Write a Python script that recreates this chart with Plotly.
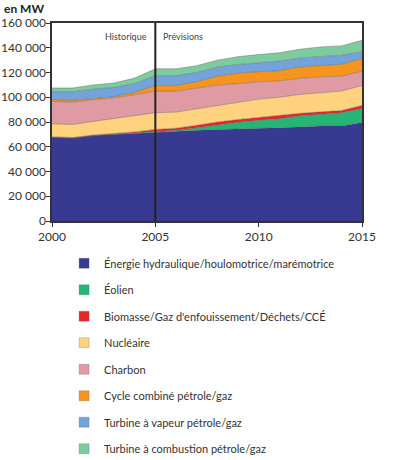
import plotly.graph_objects as go

years = list(range(2000, 2016))

# capacity by source, MW (stacked from bottom to top)
hydro = [67500, 67000, 69000, 70000, 71000, 72000, 72500, 73300, 74000, 74700, 75000, 75300, 76200, 76800, 76800, 79500]
wind = [0, 0, 0, 0, 200, 300, 800, 2000, 3800, 5100, 6500, 7400, 8800, 9600, 10700, 11500]
biomass = [500, 500, 500, 800, 800, 1700, 1700, 2000, 2200, 2200, 2200, 2100, 2000, 1800, 1700, 2400]
nuclear = [10500, 10500, 11000, 12200, 13500, 13500, 13000, 13200, 13500, 14000, 14800, 15200, 15300, 15400, 15800, 16100]
coal = [18000, 18000, 17500, 16500, 16500, 17500, 17000, 17000, 16300, 15000, 14000, 13200, 12900, 12900, 12000, 11500]
combined = [1500, 1500, 1000, 1000, 2000, 4500, 4500, 5000, 7200, 8500, 8100, 8300, 9300, 9400, 9700, 10300]
steam = [6500, 7000, 7500, 7500, 7000, 8000, 8000, 7500, 7500, 7000, 7200, 7700, 7300, 7300, 7300, 5300]
combustion = [3000, 3000, 3500, 3500, 4500, 5500, 5500, 5500, 5500, 6300, 6700, 6800, 7000, 7500, 7500, 9400]

history_end = 2005

series = [
    ("Énergie hydraulique/houlomotrice/marémotrice", hydro, "#383a92"),
    ("Éolien", wind, "#25b574"),
    ("Biomasse/Gaz d'enfouissement/Déchets/CCÉ", biomass, "#e8262a"),
    ("Nucléaire", nuclear, "#ffd27f"),
    ("Charbon", coal, "#e09aa3"),
    ("Cycle combiné pétrole/gaz", combined, "#f7941d"),
    ("Turbine à vapeur pétrole/gaz", steam, "#74a3db"),
    ("Turbine à combustion pétrole/gaz", combustion, "#7dcc9f"),
]

fig = go.Figure()
for name, vals, col in series:
    fig.add_trace(go.Scatter(
        x=years, y=vals, name=name, stackgroup="one", mode="lines",
        line=dict(width=0.7, color="rgba(90,90,90,0.6)"), fillcolor=col,
        showlegend=False, hoverinfo="skip"
    ))

# legend entries as square markers
for i, (name, vals, col) in enumerate(series):
    fig.add_trace(go.Scatter(
        x=[None], y=[None], name=name, mode="markers",
        marker=dict(symbol="square", size=10, color=col,
                    line=dict(width=0.5, color="rgba(90,90,90,0.5)")),
        legendgroup=str(i)
    ))

fig.add_shape(type="line", x0=history_end, x1=history_end, y0=0, y1=1,
              xref="x", yref="paper", line=dict(color="#222222", width=2))
fig.add_annotation(x=history_end, y=0.93, xref="x", yref="paper", text="Historique",
                   showarrow=False, xanchor="right", yanchor="middle", xshift=-6,
                   font=dict(size=9, color="#444444"))
fig.add_annotation(x=history_end, y=0.93, xref="x", yref="paper", text="Prévisions",
                   showarrow=False, xanchor="left", yanchor="middle", xshift=6,
                   font=dict(size=9, color="#444444"))
fig.add_annotation(x=0, y=1, xref="paper", yref="paper", text="<b>en MW</b>",
                   showarrow=False, xanchor="left", yanchor="bottom",
                   xshift=-50, yshift=5, font=dict(size=12, color="#222222"))

fig.update_layout(
    width=400, height=460,
    margin=dict(l=52, r=38, t=23, b=239, autoexpand=False),
    plot_bgcolor="white", paper_bgcolor="white",
    font=dict(family="Lato, Open Sans, sans-serif", size=12, color="#333333"),
    separators=", ",
    xaxis=dict(range=[2000, 2015], tickvals=[2000, 2005, 2010, 2015],
               showgrid=False, zeroline=False, showline=True, mirror=True,
               linecolor="#333333", linewidth=1.5, ticks="outside", ticklen=4,
               tickcolor="#333333", automargin=False),
    yaxis=dict(range=[0, 160000], dtick=20000, tickformat=",d",
               showgrid=False, zeroline=False, showline=True, mirror=True,
               linecolor="#333333", linewidth=1.5, ticks="outside", ticklen=4,
               tickcolor="#333333", automargin=False, ticklabelstandoff=-2),
    legend=dict(x=0.039, y=-0.14, xanchor="left", yanchor="top",
                font=dict(size=11, color="#333333"), tracegroupgap=7.5,
                bgcolor="rgba(0,0,0,0)"),
)

# drop the default 8px page margin so the figure sits at the window corner
fig.write_html("out.html", config={"displayModeBar": False},
               post_script="document.body.style.margin='0';")
